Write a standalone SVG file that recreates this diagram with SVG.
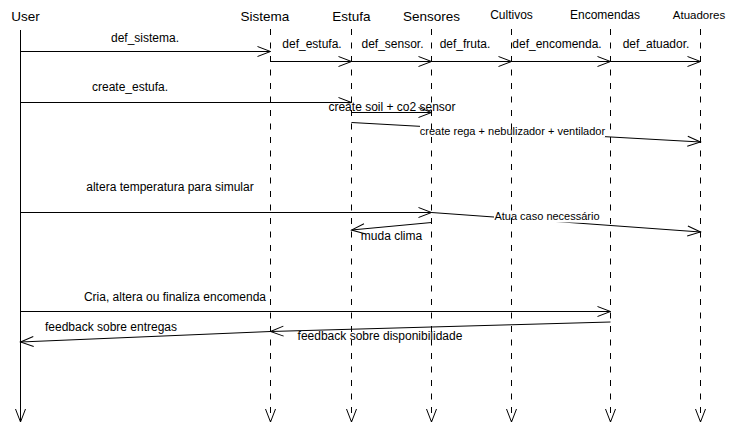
<svg xmlns="http://www.w3.org/2000/svg" width="740" height="438" viewBox="0 0 740 438">
<style>
text{font-family:"Liberation Sans",Arial,sans-serif;fill:#000}
.h{font-size:13.5px;text-anchor:middle}
.hs{font-size:12px;text-anchor:middle}
.m{font-size:12px;text-anchor:middle}
.s{font-size:11px;text-anchor:middle}
.msg{stroke:#000;stroke-width:1;fill:none;marker-end:url(#arr)}
.life{stroke:#000;stroke-width:1;fill:none;stroke-dasharray:6 7.5;marker-end:url(#arr)}
.solid{stroke:#000;stroke-width:1;fill:none;marker-end:url(#arr)}
.bg{fill:#fff;stroke:none}
</style>
<defs>
<marker id="arr" markerWidth="16" markerHeight="12" refX="14" refY="6" orient="auto" markerUnits="userSpaceOnUse">
<path d="M1,1 L14,6 L1,11" fill="none" stroke="#000" stroke-width="1" stroke-dasharray="none"/>
</marker>
</defs>
<rect width="740" height="438" fill="#fff"/>
<g id="connectors">
<line class="msg" x1="20.5" y1="51.5" x2="270.5" y2="51.5"/>
<text class="m" x="145" y="42">def_sistema.</text>
<line class="msg" x1="270.5" y1="61.5" x2="351.5" y2="61.5"/>
<text class="m" x="312" y="48">def_estufa.</text>
<line class="msg" x1="351.5" y1="61.5" x2="431.5" y2="61.5"/>
<text class="m" x="392.5" y="48">def_sensor.</text>
<line class="msg" x1="431.5" y1="61.5" x2="511.5" y2="61.5"/>
<text class="m" x="465" y="48">def_fruta.</text>
<line class="msg" x1="511.5" y1="61.5" x2="610.5" y2="61.5"/>
<text class="m" x="557" y="48">def_encomenda.</text>
<line class="msg" x1="610.5" y1="61.5" x2="700.5" y2="61.5"/>
<text class="m" x="656" y="48">def_atuador.</text>

<line class="msg" x1="20.5" y1="102.5" x2="351.5" y2="102.5"/>
<text class="m" x="130" y="91">create_estufa.</text>
<rect class="bg" x="328" y="103.5" width="128" height="8.5"/>
<text class="m" x="392" y="110.5">create soil + co2 sensor</text>
<line class="msg" x1="351.5" y1="112.5" x2="431.5" y2="112.5"/>

<line class="msg" x1="351.5" y1="122.5" x2="700.5" y2="142"/>
<rect class="bg" x="420" y="125" width="185" height="12.5"/>
<text class="s" x="512.5" y="135">create rega + nebulizador + ventilador</text>

<line class="msg" x1="20.5" y1="212.5" x2="431.5" y2="212.5"/>
<text class="m" x="170" y="190.5">altera temperatura para simular</text>
<line class="msg" x1="431.5" y1="212.5" x2="700.5" y2="232"/>
<rect class="bg" x="494" y="209.5" width="107" height="13"/>
<text class="s" x="547" y="219.5">Atua caso necessário</text>
<line class="msg" x1="431.5" y1="222.5" x2="351.5" y2="230"/>
<text class="m" x="391.5" y="240">muda clima</text>

<line class="msg" x1="20.5" y1="311.5" x2="610.5" y2="311.5"/>
<text class="m" x="175" y="301">Cria, altera ou finaliza encomenda</text>
<line class="msg" x1="610.5" y1="322" x2="270.5" y2="331.5"/>
<text class="m" x="380" y="339.5">feedback sobre disponibilidade</text>
<line class="msg" x1="270.5" y1="331.5" x2="20.5" y2="342"/>
<text class="m" x="111" y="331">feedback sobre entregas</text>
</g>
<g id="user">
<text class="h" x="25.5" y="20.5">User</text>
<line class="solid" x1="20.5" y1="30" x2="20.5" y2="422"/>
</g>
<g id="sistema">
<text class="h" x="265" y="20.5">Sistema</text>
<line class="life" x1="270.5" y1="29" x2="270.5" y2="422"/>
</g>
<g id="estufa">
<text class="h" x="351.5" y="20.5">Estufa</text>
<line class="life" x1="351.5" y1="29" x2="351.5" y2="422"/>
</g>
<g id="sensores">
<text class="h" x="431.5" y="20.5">Sensores</text>
<line class="life" x1="431.5" y1="29" x2="431.5" y2="422"/>
</g>
<g id="cultivos">
<text class="hs" x="511.5" y="19.3">Cultivos</text>
<line class="life" x1="511.5" y1="29" x2="511.5" y2="422"/>
</g>
<g id="encomendas">
<text class="hs" x="605" y="19.3">Encomendas</text>
<line class="life" x1="610.5" y1="29" x2="610.5" y2="422"/>
</g>
<g id="atuadores">
<text class="hs" x="699" y="19.3" style="font-size:11.5px">Atuadores</text>
<line class="life" x1="700.5" y1="29" x2="700.5" y2="422"/>
</g>
</svg>
